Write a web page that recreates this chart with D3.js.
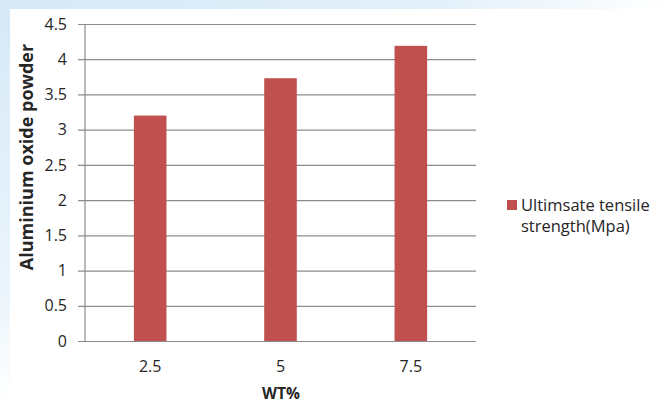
<!DOCTYPE html>
<html>
<head>
<meta charset="utf-8">
<script src="https://cdn.jsdelivr.net/npm/d3@7"></script>
<style>
  html, body { margin: 0; padding: 0; background: #fff; }
  svg { display: block; }
  text { font-family: "Open Sans", "Liberation Sans", sans-serif; fill: #262626; }
</style>
</head>
<body>
<svg id="chart" width="667" height="403"></svg>
<script>
// Aluminium oxide powder content vs ultimate tensile strength
const categories = ["2.5", "5", "7.5"];
const tensileStrength = [3.2, 3.73, 4.19];
const yTicks = [0, 0.5, 1, 1.5, 2, 2.5, 3, 3.5, 4, 4.5];
const seriesName = ["Ultimsate tensile", "strength(Mpa)"];

const svg = d3.select("#chart");
const W = 667, H = 403;
const plot = { left: 85, right: 476, top: 24, bottom: 341 };

// soft blue page backdrop behind the chart frame
const defs = svg.append("defs");
const gTop = defs.append("linearGradient").attr("id", "bgTop").attr("x1", 0).attr("x2", 1).attr("y1", 0).attr("y2", 0);
gTop.append("stop").attr("offset", 0).attr("stop-color", "#d6e9f7");
gTop.append("stop").attr("offset", 0.65).attr("stop-color", "#e2f0fa");
gTop.append("stop").attr("offset", 1).attr("stop-color", "#ffffff");
const gLeft = defs.append("linearGradient").attr("id", "bgLeft").attr("x1", 0).attr("x2", 0).attr("y1", 0).attr("y2", 1);
gLeft.append("stop").attr("offset", 0).attr("stop-color", "#d6e9f7");
gLeft.append("stop").attr("offset", 0.7).attr("stop-color", "#eaf4fb");
gLeft.append("stop").attr("offset", 1).attr("stop-color", "#ffffff");
svg.append("rect").attr("x", 0).attr("y", 0).attr("width", W).attr("height", 9).attr("fill", "url(#bgTop)");
svg.append("rect").attr("x", 0).attr("y", 0).attr("width", 10).attr("height", H).attr("fill", "url(#bgLeft)");

const x = d3.scaleBand().domain(categories).range([plot.left, plot.right]).paddingInner(0.75).paddingOuter(0.375);
const y = d3.scaleLinear().domain([0, 4.5]).range([plot.bottom, plot.top]);

// horizontal gridlines with short outside ticks
const yAxis = d3.axisLeft(y).tickValues(yTicks).tickSize(-(plot.right - plot.left))
  .tickFormat(d3.format("~g"));
const gy = svg.append("g").attr("transform", `translate(${plot.left},0)`).call(yAxis);
gy.select(".domain").remove();
gy.selectAll(".tick line").attr("stroke", "#8c8c8c").attr("stroke-width", 1.2).attr("x1", -7);
gy.selectAll(".tick text").attr("x", -18).attr("font-size", 16).attr("fill", "#333");

// bars
svg.append("g").selectAll("rect").data(categories).join("rect")
  .attr("x", d => x(d))
  .attr("width", x.bandwidth())
  .attr("y", (d, i) => y(tensileStrength[i]))
  .attr("height", (d, i) => y(0) - y(tensileStrength[i]))
  .attr("fill", "#c0504d");

// vertical axis line
svg.append("line").attr("x1", plot.left).attr("x2", plot.left).attr("y1", plot.top).attr("y2", plot.bottom)
  .attr("stroke", "#8c8c8c").attr("stroke-width", 1.2);

// category labels
const xAxis = d3.axisBottom(x).tickSize(0).tickPadding(20);
const gx = svg.append("g").attr("transform", `translate(0,${plot.bottom})`).call(xAxis);
gx.select(".domain").remove();
gx.selectAll(".tick text").attr("font-size", 16).attr("fill", "#333");

// axis titles
svg.append("text").attr("x", 281).attr("y", 399).attr("text-anchor", "middle")
  .attr("font-size", 15.5).attr("font-weight", "bold").text("WT%");
svg.append("text").attr("transform", "translate(33,157) rotate(-90)").attr("text-anchor", "middle")
  .attr("font-size", 18).attr("font-weight", "bold").text("Aluminium oxide powder");

// legend
const lg = svg.append("g").attr("transform", "translate(507,200)");
lg.append("rect").attr("width", 10).attr("height", 10).attr("fill", "#c0504d");
lg.selectAll("text.lab").data(seriesName).join("text").attr("class", "lab")
  .attr("x", 14).attr("y", (d, i) => 11 + i * 21).attr("font-size", 16.5).attr("fill", "#333").text(d => d);
</script>
</body>
</html>
